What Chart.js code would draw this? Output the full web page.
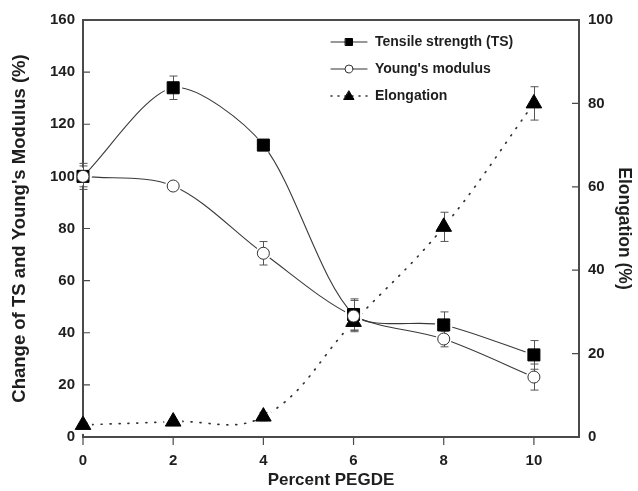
<!DOCTYPE html>
<html><head><meta charset="utf-8">
<script src="https://cdn.jsdelivr.net/npm/chart.js@4"></script>
<style>html,body{margin:0;padding:0;background:#fff}#wrap{width:638px;height:491px}</style>
</head><body><div id="wrap"><canvas id="c" width="638" height="491"></canvas></div>
<script>
const xValues = [0, 2, 4, 6, 8, 10];
const tsValues = [100, 134, 112, 47, 43, 31.5];
const tsErr = [5, 4.5, 2, 6, 5, 5.5];
const ymValues = [100, 96.3, 70.5, 46.4, 37.6, 23];
const ymErr = [4, 1, 4.5, 6, 3, 5];
const elValues = [2.9, 3.7, 4.9, 27.6, 50.4, 80];
const elErr = [0.5, 0.5, 1, 2, 3.5, 4];
const xTicks = [0, 2, 4, 6, 8, 10];
const yLeftTicks = [0, 20, 40, 60, 80, 100, 120, 140, 160];
const yRightTicks = [0, 20, 40, 60, 80, 100];
const seriesNames = ['Tensile strength (TS)', "Young's modulus", 'Elongation'];

const FONT = '"Liberation Sans", Arial, sans-serif';
const TXT = '#1e1e1e';
const AX = '#4a4a4a';
const pts = v => xValues.map((x, i) => ({x, y: v[i]}));

const markerCfg = [
  {style: 'rect', r: 8.5, bg: '#000', bc: '#000', halo: 9, order: 1, tension: 0.28},
  {style: 'circle', r: 6, bg: '#fff', bc: '#333', halo: 8, order: 0, tension: 0.32},
  {style: 'triangle', r: 9, bg: '#000', bc: '#000', halo: 9, order: 2, tension: 0.4}
];
const values = [tsValues, ymValues, elValues];
const errs = [tsErr, ymErr, elErr];
const axisIds = ['y', 'y', 'y2'];

const datasets = [];
for (let k = 0; k < 3; k++) {
  datasets.push({
    label: seriesNames[k], data: pts(values[k]), yAxisID: axisIds[k], showLine: false, clip: false,
    order: markerCfg[k].order,
    pointStyle: markerCfg[k].style, pointRadius: markerCfg[k].r, pointHoverRadius: markerCfg[k].r,
    pointBackgroundColor: markerCfg[k].bg, pointBorderColor: markerCfg[k].bc, pointBorderWidth: 1
  });
}
for (let k = 0; k < 3; k++) {
  datasets.push({
    label: seriesNames[k] + ' line', data: pts(values[k]), yAxisID: axisIds[k], order: 3,
    showLine: true, pointRadius: 0, tension: markerCfg[k].tension, borderColor: k === 2 ? '#333' : '#3a3a3a',
    borderWidth: k === 2 ? 1.7 : 1.1, borderDash: k === 2 ? [1, 8] : [], borderCapStyle: 'round', fill: false
  });
}

const decor = {
  id: 'decor',
  beforeDatasetDraw(chart, args) {
    if (args.index !== 2) return;
    const ctx = chart.ctx;
    const xs = chart.scales.x;
    ctx.save();
    ctx.fillStyle = '#fff';
    for (let k = 0; k < 3; k++) {
      const ys = chart.scales[axisIds[k]];
      values[k].forEach((v, i) => {
        ctx.beginPath();
        ctx.arc(xs.getPixelForValue(xValues[i]), ys.getPixelForValue(v), markerCfg[k].halo, 0, Math.PI * 2);
        ctx.fill();
      });
    }
    ctx.strokeStyle = '#555';
    ctx.lineWidth = 1;
    for (let k = 0; k < 3; k++) {
      const ys = chart.scales[axisIds[k]];
      values[k].forEach((v, i) => {
        const px = Math.round(xs.getPixelForValue(xValues[i])) + 0.5;
        const top = ys.getPixelForValue(v + errs[k][i]);
        const bot = ys.getPixelForValue(v - errs[k][i]);
        ctx.beginPath();
        ctx.moveTo(px, top); ctx.lineTo(px, bot);
        ctx.moveTo(px - 4, top); ctx.lineTo(px + 4, top);
        ctx.moveTo(px - 4, bot); ctx.lineTo(px + 4, bot);
        ctx.stroke();
      });
    }
    ctx.restore();
  },
  beforeDatasetsDraw(chart) {
    const ctx = chart.ctx;
    const a = chart.chartArea;
    const xs = chart.scales.x, yl = chart.scales.y, yr = chart.scales.y2;
    ctx.save();
    ctx.strokeStyle = AX;
    ctx.lineWidth = 2;
    ctx.strokeRect(a.left, a.top, a.right - a.left, a.bottom - a.top);
    ctx.lineWidth = 1.2;
    ctx.beginPath();
    yLeftTicks.forEach(v => { const y = yl.getPixelForValue(v); ctx.moveTo(a.left, y); ctx.lineTo(a.left + 7, y); });
    yRightTicks.forEach(v => { const y = yr.getPixelForValue(v); ctx.moveTo(a.right, y); ctx.lineTo(a.right - 7, y); });
    xTicks.forEach(v => { const x = xs.getPixelForValue(v); ctx.moveTo(x, a.bottom); ctx.lineTo(x, a.bottom + 8); });
    ctx.stroke();
    ctx.restore();
  },
  afterDraw(chart) {
    const ctx = chart.ctx;
    const a = chart.chartArea;
    ctx.save();
    const lx = a.left + 248, ly0 = a.top + 22, dy = 27;
    ctx.font = 'bold 14px ' + FONT;
    ctx.textBaseline = 'middle';
    for (let k = 0; k < 3; k++) {
      const y = ly0 + k * dy;
      ctx.strokeStyle = '#333';
      ctx.lineWidth = k === 2 ? 1.6 : 1.1;
      ctx.setLineDash(k === 2 ? [1, 6] : []);
      ctx.lineCap = 'round';
      ctx.beginPath(); ctx.moveTo(lx, y); ctx.lineTo(lx + 36, y); ctx.stroke();
      ctx.setLineDash([]);
      ctx.fillStyle = markerCfg[k].bg;
      ctx.strokeStyle = markerCfg[k].bc;
      ctx.lineWidth = 1;
      const cx = lx + 18;
      ctx.beginPath();
      if (k === 0) { ctx.rect(cx - 3.5, y - 3.5, 7, 7); }
      else if (k === 1) { ctx.arc(cx, y, 4, 0, Math.PI * 2); }
      else { ctx.moveTo(cx, y - 5); ctx.lineTo(cx + 5, y + 3.5); ctx.lineTo(cx - 5, y + 3.5); ctx.closePath(); }
      ctx.fill(); ctx.stroke();
      ctx.fillStyle = TXT;
      ctx.fillText(seriesNames[k], lx + 44, y);
    }
    ctx.restore();
  }
};

new Chart(document.getElementById('c'), {
  type: 'line',
  data: {datasets},
  options: {
    responsive: false, animation: false, devicePixelRatio: 1,
    layout: {padding: {top: 20, left: 0, right: 0, bottom: 0}},
    plugins: {legend: {display: false}, tooltip: {enabled: false}},
    scales: {
      x: {
        type: 'linear', min: 0, max: 11,
        grid: {display: false}, border: {display: false},
        afterBuildTicks: s => { s.ticks = xTicks.map(v => ({value: v})); },
        afterFit: s => { s.height = 54; },
        ticks: {padding: 7, color: TXT, font: {family: FONT, size: 15, weight: 'bold'}},
        title: {display: true, text: 'Percent PEGDE', color: TXT, padding: {bottom: 0},
          font: {family: FONT, size: 17, weight: 'bold'}}
      },
      y: {
        position: 'left', min: 0, max: 160,
        grid: {display: false}, border: {display: false},
        afterBuildTicks: s => { s.ticks = yLeftTicks.map(v => ({value: v})); },
        afterFit: s => { s.width = 83; },
        ticks: {padding: 0, color: TXT, font: {family: FONT, size: 15, weight: 'bold'}},
        title: {display: true, text: "Change of TS and Young's Modulus (%)", color: TXT, padding: {top: 9},
          font: {family: FONT, size: 18.5, weight: 'bold'}}
      },
      y2: {
        position: 'right', min: 0, max: 100,
        grid: {display: false}, border: {display: false},
        afterBuildTicks: s => { s.ticks = yRightTicks.map(v => ({value: v})); },
        afterFit: s => { s.width = 59; },
        ticks: {padding: 1, color: TXT, font: {family: FONT, size: 15, weight: 'bold'}},
        title: {display: true, text: 'Elongation (%)', color: TXT, padding: {top: 4},
          font: {family: FONT, size: 17.5, weight: 'bold'}}
      }
    }
  },
  plugins: [decor]
});
</script>
</body></html>
